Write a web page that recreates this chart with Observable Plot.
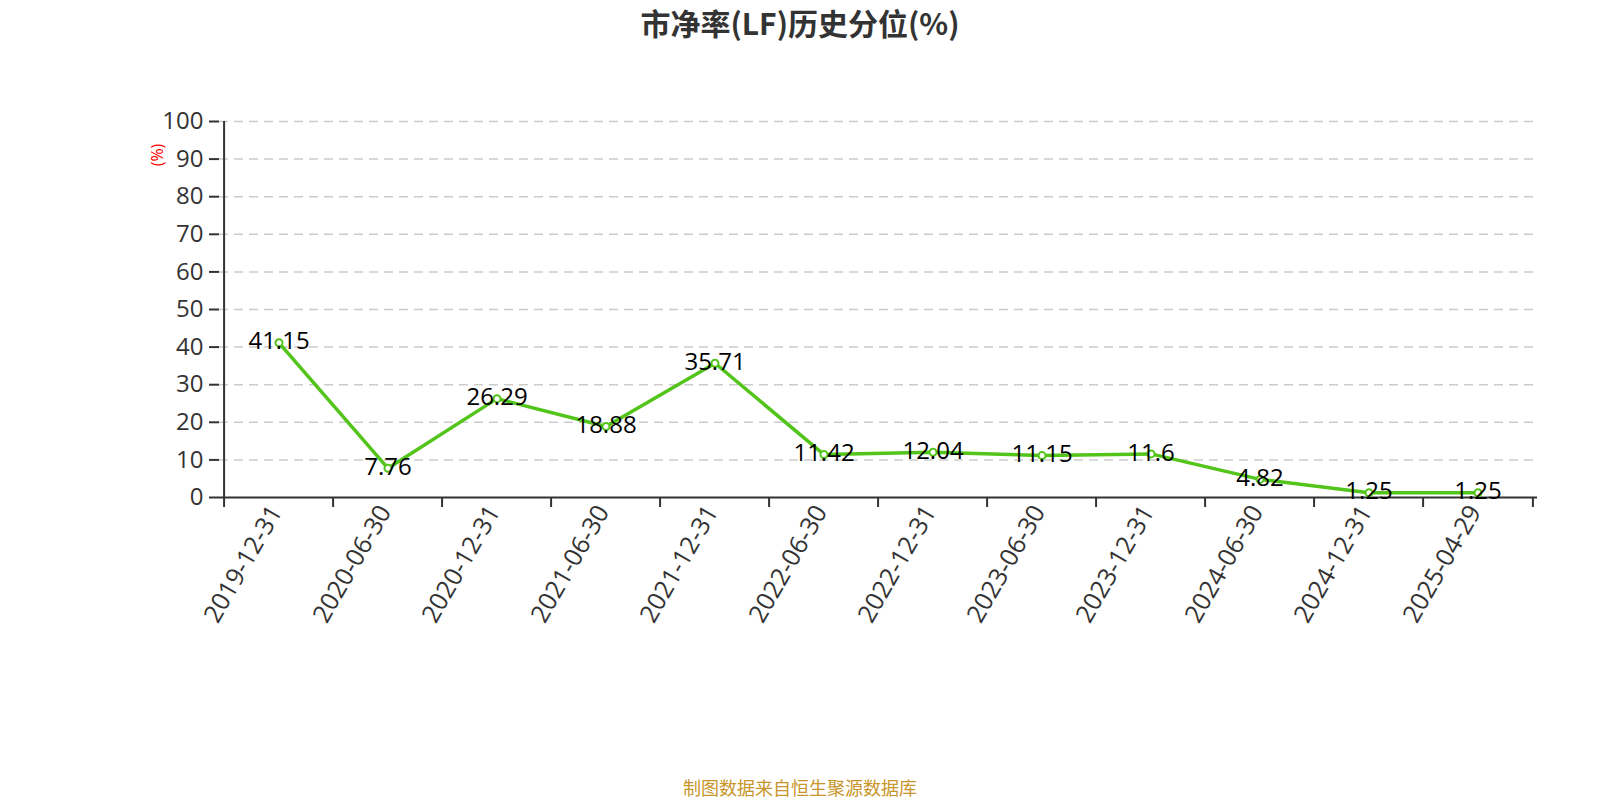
<!DOCTYPE html>
<html><head><meta charset="utf-8">
<script src="https://cdn.jsdelivr.net/npm/d3@7"></script>
<script src="https://cdn.jsdelivr.net/npm/@observablehq/plot@0.6"></script>
<style>
body{margin:0;background:#fff;}
#wrap{position:relative;width:1600px;height:800px;overflow:hidden;}
#chart{position:absolute;left:0;top:0;}
#title{position:absolute;top:1px;left:0;width:1600px;text-align:center;font-weight:bold;font-size:30px;line-height:42px;font-family:"Noto Sans CJK SC",sans-serif;color:#333;}
#ylab{position:absolute;left:157px;top:155px;transform:translate(-50%,-50%) rotate(-90deg);font-size:16px;font-family:"Open Sans","Noto Sans CJK SC",sans-serif;color:#f00;white-space:nowrap;}
#caption{position:absolute;top:775px;left:0;width:1600px;text-align:center;font-size:18px;line-height:24px;font-family:"Noto Sans CJK SC",sans-serif;color:#c8952a;}
</style></head>
<body>
<div id="wrap">
<div id="chart"></div>
<div id="title">市净率(LF)历史分位(%)</div>
<div id="ylab">(%)</div>
<div id="caption">制图数据来自恒生聚源数据库</div>
</div>
<script>
const dates = ["2019-12-31","2020-06-30","2020-12-31","2021-06-30","2021-12-31","2022-06-30","2022-12-31","2023-06-30","2023-12-31","2024-06-30","2024-12-31","2025-04-29"];
const values = [41.15, 7.76, 26.29, 18.88, 35.71, 11.42, 12.04, 11.15, 11.6, 4.82, 1.25, 1.25];
const yTicks = [0, 10, 20, 30, 40, 50, 60, 70, 80, 90, 100];

const W = 1600, H = 800, ML = 219, MR = 63, MT = 121, MB = 303;
const bw = (W - ML - MR) / dates.length;
const green = "#52c41a";
const data = dates.map((d, i) => ({date: d, value: values[i]}));
const fam = '"Open Sans","Noto Sans CJK SC",sans-serif';

const chart = Plot.plot({
  width: W, height: H,
  marginLeft: ML, marginRight: MR, marginTop: MT, marginBottom: MB,
  style: {fontFamily: fam, color: "#333", background: "transparent", overflow: "visible"},
  x: {type: "band", domain: dates, padding: 0},
  y: {domain: [0, 100]},
  marks: [
    Plot.gridY(yTicks.filter(t => t > 0), {stroke: "#ccc", strokeOpacity: 1, strokeWidth: 1.5, strokeDasharray: "9,6"}),
    Plot.axisY(yTicks, {tickSize: 10, tickPadding: 6, fontSize: 24, strokeWidth: 2, label: null}),
    Plot.axisX({tickSize: 10, tickFormat: () => "", dx: -bw / 2, strokeWidth: 2, label: null}),
    Plot.axisX([dates[dates.length - 1]], {tickSize: 10, tickFormat: () => "", dx: bw / 2, strokeWidth: 2, label: null}),
    Plot.axisX({tickSize: 0, tickPadding: 10, tickRotate: -60, fontSize: 25, dx: -3, label: null}),
    Plot.ruleY([0], {stroke: "#333", strokeWidth: 2}),
    Plot.ruleX([dates[0]], {dx: -bw / 2, stroke: "#333", strokeWidth: 2}),
    Plot.lineY(data, {x: "date", y: "value", stroke: green, strokeWidth: 3.5}),
    Plot.dot(data, {x: "date", y: "value", r: 3.5, fill: "white", stroke: green, strokeWidth: 2}),
    Plot.text(data, {x: "date", y: "value", text: d => String(d.value), fontSize: 24, fill: "#000", dy: -1})
  ]
});
document.getElementById("chart").appendChild(chart);
</script>
</body></html>
